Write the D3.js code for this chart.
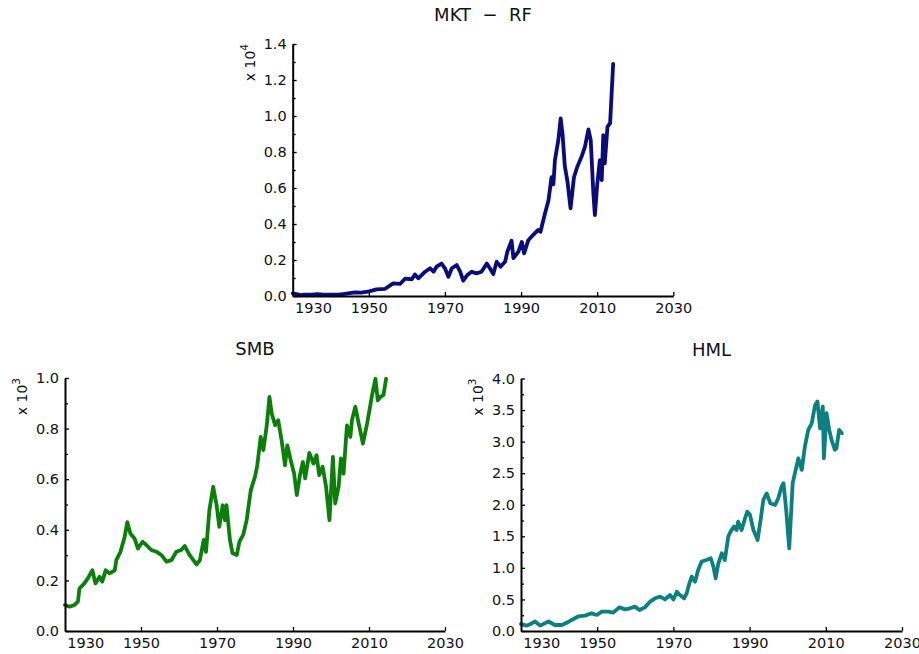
<!DOCTYPE html>
<html>
<head>
<meta charset="utf-8">
<script src="https://cdn.jsdelivr.net/npm/d3@7"></script>
<style>
  body { margin: 0; background: #fff; }
  svg { display: block; }
  text { font-family: "DejaVu Sans", sans-serif; fill: #111; }
</style>
</head>
<body>
<svg id="chart" width="919" height="654"></svg>
<script>
// Cumulative value of $100 invested in each Fama-French factor portfolio
const mktYears = [1930,1931,1932,1933,1935,1936.5,1938,1940,1942,1943.3,1945,1946.4,1948,1950.1,1952,1954.3,1956.4,1958.2,1959.5,1961.3,1962.1,1963,1964.8,1966.1,1967,1967.8,1969.1,1970,1970.9,1971.8,1973.1,1974,1974.8,1975.9,1977,1978.3,1979.6,1981,1981.8,1982.7,1983.6,1984.6,1985.8,1986.4,1987.5,1988,1989.3,1990.2,1990.8,1991.9,1993.2,1994.5,1995.1,1996.3,1997.2,1998,1998.5,1998.9,1999.8,2000.4,2000.9,2001.5,2002.2,2003,2003.9,2004.8,2005.9,2006.8,2007.7,2008.3,2009,2009.4,2010,2010.7,2011.2,2011.6,2012,2012.7,2013.4,2013.8,2014.2];
const mktValues = [150,110,50,70,80,110,70,80,70,110,160,200,190,260,370,400,700,670,960,930,1200,980,1350,1540,1350,1630,1800,1540,1070,1540,1720,1350,850,1170,1350,1260,1350,1800,1540,1220,1900,1630,1900,2460,3070,2100,2460,3000,2370,3100,3400,3670,3570,4600,5300,6600,6200,7550,8670,9870,9000,7200,6350,4870,6600,7200,7740,8300,9260,8670,5700,4500,6170,7550,6440,8940,7370,9400,9600,11260,12900];

const smbYears = [1930,1931.2,1932.5,1933.4,1933.8,1935.1,1936,1937.2,1938,1939.1,1939.8,1940.7,1941.7,1943.1,1943.5,1944.6,1945.7,1946.4,1947.2,1948.3,1949.2,1950.4,1951.4,1952.7,1954.1,1955.4,1956.7,1958,1959.3,1960.6,1961.5,1962.8,1964.6,1965.5,1966.5,1967.1,1968,1969,1969.9,1970.6,1971.5,1972.1,1972.5,1973.4,1974.1,1975.2,1975.9,1976.9,1977.8,1978.9,1980,1980.6,1981.5,1982.2,1983.1,1983.8,1984.4,1985.3,1986.1,1987,1987.9,1988.5,1989.4,1990.3,1991,1991.9,1992.6,1993.2,1994.3,1995.4,1996.2,1996.9,1997.8,1998.7,1999.6,2000.5,2001.1,2002,2002.6,2003.3,2004.2,2005.1,2005.5,2006.4,2007.3,2008.4,2009.5,2010.2,2010.8,2011.7,2012.3,2013,2013.8,2014.5];
const smbValues = [103,96,103,116,168,188,208,240,188,214,195,240,228,240,280,313,372,430,385,366,326,353,340,320,313,300,274,280,313,320,336,300,263,280,360,313,478,570,497,412,497,438,497,360,307,300,353,380,438,557,610,655,767,715,813,925,860,813,833,754,655,734,675,622,537,622,668,603,704,662,695,616,649,570,438,688,504,570,682,622,813,767,833,886,820,741,820,879,932,997,912,925,932,997];

const hmlYears = [1930,1931.5,1932.8,1933.7,1935,1937.2,1938.9,1940.7,1942,1943.3,1945,1946.8,1948.5,1949.9,1951.2,1952.9,1954.2,1955.8,1957.3,1958.6,1959.9,1961.1,1962.5,1963.9,1965.2,1966.5,1967.8,1969.1,1970,1970.9,1971.7,1972.8,1973.5,1974.2,1974.8,1975.7,1976.5,1977.4,1978.7,1979.8,1980.5,1981.1,1981.8,1982.7,1983.5,1984.4,1985,1985.9,1986.6,1987,1987.9,1988.8,1989.4,1990.1,1991,1992.1,1992.9,1993.6,1994.5,1995.4,1996.7,1997.5,1998.4,1998.9,1999.6,2000.4,2001.3,2001.9,2002.8,2003.7,2004.5,2005.4,2006.3,2007.2,2007.8,2008.5,2009.2,2009.5,2010.2,2010.9,2011.5,2012.4,2012.8,2013.5,2014.2];
const hmlValues = [110,85,120,150,85,150,95,95,130,175,230,243,280,254,306,306,290,375,343,360,386,333,375,465,518,544,500,570,500,623,570,518,600,756,861,782,967,1100,1125,1152,1020,835,1073,1231,1125,1495,1575,1654,1600,1733,1600,1786,1890,1840,1600,1443,1760,2077,2180,2024,1997,2100,2290,2340,1920,1310,2340,2500,2737,2552,2920,3186,3290,3580,3635,3210,3556,2737,3450,3186,3028,2870,2896,3186,3134];

const xTickYears = [1930, 1950, 1970, 1990, 2010, 2030];
const mktTicks = [0, 2000, 4000, 6000, 8000, 10000, 12000, 14000];
const smbTicks = [0, 200, 400, 600, 800, 1000];
const hmlTicks = [0, 500, 1000, 1500, 2000, 2500, 3000, 3500, 4000];

const panels = [
  { title: "MKT  \u2212  RF", years: mktYears, values: mktValues, ticks: mktTicks, exp: 4,
    color: "#0b0b80", box: { left: 292.7, right: 673.3, top: 44, bottom: 296 } },
  { title: "SMB", years: smbYears, values: smbValues, ticks: smbTicks, exp: 3,
    color: "#0a800a", box: { left: 65, right: 445, top: 378, bottom: 631 } },
  { title: "HML", years: hmlYears, values: hmlValues, ticks: hmlTicks, exp: 3,
    color: "#0a8080", box: { left: 521, right: 902, top: 378.5, bottom: 631 } }
];

const svg = d3.select("#chart");

panels.forEach(p => {
  const b = p.box;
  const x = d3.scaleLinear().domain([xTickYears[0], xTickYears[xTickYears.length - 1]]).range([b.left, b.right]);
  const yMax = p.ticks[p.ticks.length - 1];
  const y = d3.scaleLinear().domain([0, yMax]).range([b.bottom, b.top]);
  const g = svg.append("g");
  const scaleDiv = Math.pow(10, p.exp);
  const step = p.ticks[1] - p.ticks[0];
  const minor = d3.range(step / 2, yMax, step);

  // data line
  const line = d3.line().x(d => x(d[0])).y(d => y(d[1]));
  g.append("path")
    .datum(d3.zip(p.years, p.values))
    .attr("d", line)
    .attr("fill", "none")
    .attr("stroke", p.color)
    .attr("stroke-width", 3.8)
    .attr("stroke-linejoin", "round")
    .attr("stroke-linecap", "round");

  // x axis, ticks pointing into the plot
  const xa = g.append("g")
    .attr("transform", `translate(0,${b.bottom})`)
    .call(d3.axisBottom(x).tickValues(xTickYears).tickSize(-4).tickSizeOuter(0)
      .tickPadding(6.5).tickFormat(d3.format("d")));
  xa.selectAll(".tick").filter(d => d === xTickYears[0]).each(function () {
    const t = d3.select(this);
    t.select("line").remove();
    t.select("text").attr("text-anchor", "start").attr("x", 1.8);
  });

  // y axis with minor ticks
  g.append("g")
    .attr("transform", `translate(${b.left},0)`)
    .call(d3.axisLeft(y).tickValues(p.ticks).tickSize(-4).tickSizeOuter(0)
      .tickPadding(6).tickFormat(v => d3.format(".1f")(v / scaleDiv)));
  g.append("g")
    .attr("transform", `translate(${b.left},0)`)
    .call(d3.axisLeft(y).tickValues(minor).tickSize(-3).tickSizeOuter(0).tickFormat(""))
    .call(s => s.select(".domain").remove());

  g.selectAll(".domain").attr("stroke", "#000").attr("stroke-width", 2);
  g.selectAll(".tick line").attr("stroke", "#000").attr("stroke-width", 1.3);
  g.selectAll(".tick text").attr("font-size", 14.5).attr("font-family", "DejaVu Sans").attr("fill", "#1a1a1a");

  // title
  g.append("text")
    .attr("x", (b.left + b.right) / 2)
    .attr("y", b.top - 23)
    .attr("text-anchor", "middle")
    .attr("font-size", 18)
    .style("white-space", "pre")
    .text(p.title);

  // exponent label
  const ex = g.append("text")
    .attr("transform", `translate(${b.left - 38},${b.top}) rotate(-90)`)
    .attr("text-anchor", "end")
    .attr("font-size", 14)
    .attr("fill", "#1a1a1a");
  ex.append("tspan").text("x 10");
  ex.append("tspan").attr("dy", -7).attr("font-size", 10.5).text(p.exp);
});
</script>
</body>
</html>
